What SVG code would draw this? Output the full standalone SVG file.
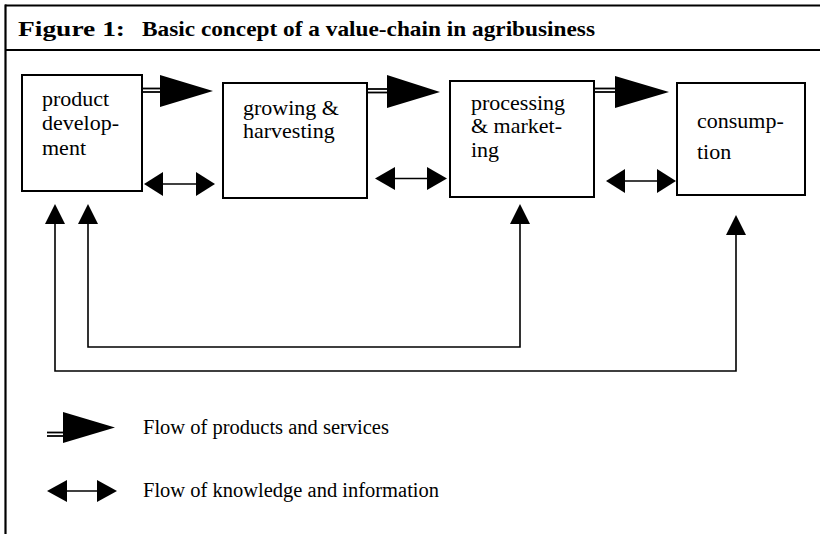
<svg xmlns="http://www.w3.org/2000/svg" width="820" height="534" viewBox="0 0 820 534">
<style>
.frame{stroke:#000;stroke-width:2.2;fill:none}
.box{fill:#fff;stroke:#000;stroke-width:2}
.lbl{font-family:"Liberation Serif","Times New Roman",serif;font-size:22px;fill:#000}
.title{font-family:"Liberation Serif","Times New Roman",serif;font-size:22px;font-weight:bold;fill:#000}
.leg{font-family:"Liberation Serif","Times New Roman",serif;font-size:20.5px;fill:#000}
.ln{stroke:#000;stroke-width:1.6;fill:none}
.shaft{stroke:#000;stroke-width:1.8;fill:none}
.head{fill:#000;stroke:none}
</style>
<rect width="820" height="534" fill="#fff"/>
<g id="frame">
<line class="frame" x1="5" y1="5.5" x2="820" y2="5.5"/>
<line class="frame" x1="5" y1="50" x2="820" y2="50"/>
<line class="frame" x1="5.5" y1="4.5" x2="5.5" y2="534"/>
<text class="title" x="18" y="36" textLength="107" lengthAdjust="spacingAndGlyphs">Figure 1:</text>
<text class="title" x="142" y="36" textLength="453" lengthAdjust="spacingAndGlyphs">Basic concept of a value-chain in agribusiness</text>
</g>
<g id="node-product-development">
<rect class="box" x="22" y="75" width="120" height="116"/>
<text class="lbl" x="42" y="106">product</text>
<text class="lbl" x="42" y="130">develop-</text>
<text class="lbl" x="42" y="155">ment</text>
</g>
<g id="node-growing-harvesting">
<rect class="box" x="223" y="83" width="144" height="115"/>
<text class="lbl" x="243" y="115">growing &amp;</text>
<text class="lbl" x="243" y="138">harvesting</text>
</g>
<g id="node-processing-marketing">
<rect class="box" x="450" y="81" width="144" height="116"/>
<text class="lbl" x="471" y="110">processing</text>
<text class="lbl" x="471" y="133">&amp; market-</text>
<text class="lbl" x="471" y="157">ing</text>
</g>
<g id="node-consumption">
<rect class="box" x="677" y="83" width="128" height="112"/>
<text class="lbl" x="697" y="128">consump-</text>
<text class="lbl" x="697" y="159">tion</text>
</g>
<g id="connectors">
<line class="shaft" x1="142" y1="88.5" x2="161" y2="88.5"/>
<line class="shaft" x1="142" y1="92" x2="161" y2="92"/>
<polygon class="head" points="160,75 213,91 160,107"/>
<line class="shaft" x1="367" y1="89" x2="388" y2="89"/>
<line class="shaft" x1="367" y1="92.5" x2="388" y2="92.5"/>
<polygon class="head" points="387,75 440,92 387,108"/>
<line class="shaft" x1="594" y1="88.5" x2="616" y2="88.5"/>
<line class="shaft" x1="594" y1="92" x2="616" y2="92"/>
<polygon class="head" points="615,76 669,92 615,108"/>
<line class="ln" x1="160" y1="184" x2="198" y2="184"/>
<polygon class="head" points="144,184 163,172 163,196"/>
<polygon class="head" points="215,184 196,172 196,196"/>
<line class="ln" x1="392" y1="178.5" x2="430" y2="178.5"/>
<polygon class="head" points="375,178.5 395,167 395,190"/>
<polygon class="head" points="447,178.5 427,167 427,190"/>
<line class="ln" x1="622" y1="181" x2="660" y2="181"/>
<polygon class="head" points="606,181 625,169 625,193"/>
<polygon class="head" points="676,181 657,169 657,193"/>
<polyline class="ln" points="520,222 520,347 88,347 88,222"/>
<polygon class="head" points="520,204 530,224 510,224"/>
<polygon class="head" points="88,204 98,224 78,224"/>
<polyline class="ln" points="736,233 736,371 55,371 55,222"/>
<polygon class="head" points="736,215 746,235 726,235"/>
<polygon class="head" points="55,204 65,224 45,224"/>
</g>
<g id="legend">
<line class="shaft" x1="47" y1="432.5" x2="64" y2="432.5"/>
<line class="shaft" x1="47" y1="436" x2="64" y2="436"/>
<polygon class="head" points="63,412 115,427.5 63,443"/>
<text class="leg" x="143" y="434">Flow of products and services</text>
<line class="ln" x1="63" y1="491" x2="100" y2="491"/>
<polygon class="head" points="47,491 67,480 67,502"/>
<polygon class="head" points="117,491 97,480 97,502"/>
<text class="leg" x="143" y="497">Flow of knowledge and information</text>
</g>
</svg>
